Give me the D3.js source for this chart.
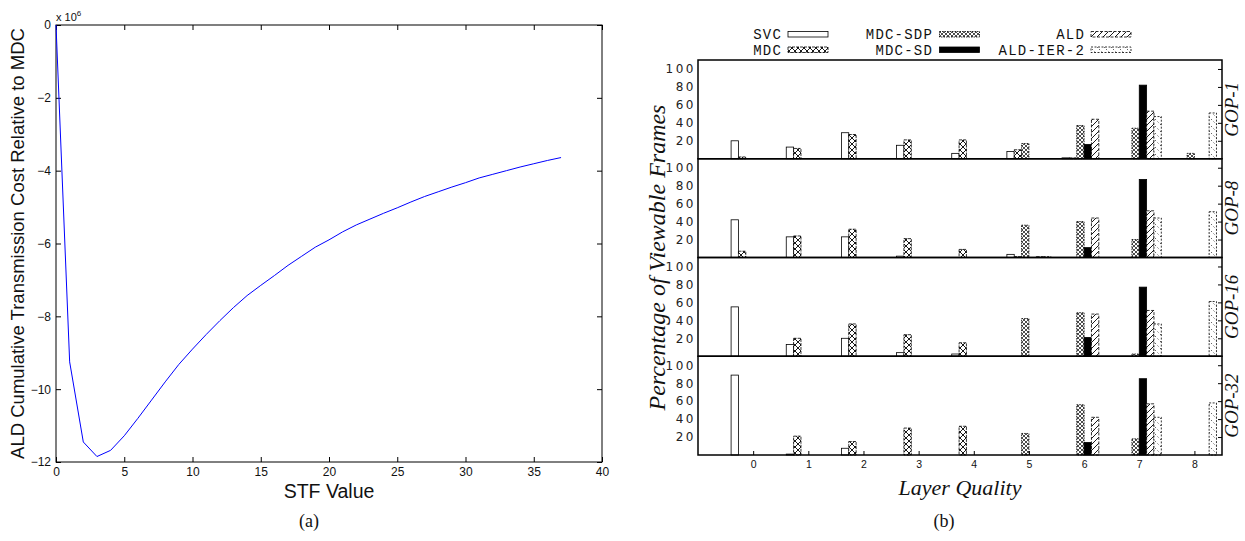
<!DOCTYPE html>
<html>
<head>
<meta charset="utf-8">
<script src="https://cdn.jsdelivr.net/npm/d3@7"></script>
<style>
  body { margin: 0; background: #fff; }
  svg { display: block; }
</style>
</head>
<body>
<svg id="fig" width="1245" height="541"></svg>
<script>
// ---------------- (a) ALD cumulative transmission cost vs STF ----------------
const stfValues = [0, 1, 2, 3, 4, 5, 6, 7, 8, 9, 10, 11, 12, 13, 14, 15, 16, 17, 18, 19,
                   20, 21, 22, 23, 24, 25, 26, 27, 28, 29, 30, 31, 32, 33, 34, 35, 36, 37];
// cost relative to MDC, in units of 10^6
const costDelta = [0, -9.25, -11.45, -11.85, -11.68, -11.28, -10.8, -10.3, -9.8, -9.32,
                   -8.9, -8.5, -8.12, -7.76, -7.43, -7.15, -6.88, -6.6, -6.35, -6.1,
                   -5.9, -5.68, -5.49, -5.33, -5.17, -5.02, -4.86, -4.71, -4.58, -4.45,
                   -4.33, -4.2, -4.1, -4.0, -3.9, -3.81, -3.72, -3.64];
const stfTicks = [0, 5, 10, 15, 20, 25, 30, 35, 40];
const costTicks = [0, -2, -4, -6, -8, -10, -12];

// ---------------- (b) viewable frames per layer quality ----------------
const layers = [0, 1, 2, 3, 4, 5, 6, 7, 8];
const schemes = ["SVC", "MDC", "MDC-SDP", "MDC-SD", "ALD", "ALD-IER-2"];
const gopNames = ["GOP-1", "GOP-8", "GOP-16", "GOP-32"];
const pctTicks = [20, 40, 60, 80, 100];

// percentage of viewable frames, one row per scheme (same order as `schemes`)
const gop1 = [
  [20, 13, 29, 15, 6, 8, 1, 0, 0],
  [2, 11.5, 27, 21, 21, 10, 1, 0, 0],
  [0, 0, 0, 0, 0, 17, 37, 34, 6],
  [0, 0, 0, 0, 0, 0, 16, 82, 0],
  [0, 0, 0, 0, 0, 0, 44, 53, 0],
  [0, 0, 0, 0, 0, 0, 0, 47, 51]
];
const gop8 = [
  [42, 23, 23, 1.5, 0, 3.5, 0, 0, 0],
  [7, 24, 31.5, 21, 9, 1, 0, 0, 0],
  [0, 0, 0, 0, 0, 36, 40, 20, 0],
  [0, 0, 0, 0, 0, 0, 11, 87, 0],
  [0, 0, 0, 0, 0, 1, 44, 52, 0],
  [0, 0, 0, 0, 0, 1, 0, 44, 51]
];
const gop16 = [
  [55, 13, 20, 4, 2.5, 0, 0, 0, 0],
  [0, 20, 36, 24, 15, 0, 0, 0, 0],
  [0, 0, 0, 0, 0, 42, 48.5, 2.5, 0],
  [0, 0, 0, 0, 0, 0, 21, 77, 0],
  [0, 0, 0, 0, 0, 0, 47, 51, 0],
  [0, 0, 0, 0, 0, 0, 0, 36, 61]
];
const gop32 = [
  [89, 1, 7.5, 0, 0, 0, 0, 0, 0],
  [0, 21, 15, 30, 32, 0, 0, 0, 0],
  [0, 0, 0, 0, 0, 24, 56, 18, 0],
  [0, 0, 0, 0, 0, 0, 14, 85, 0],
  [0, 0, 0, 0, 0, 0, 42, 57, 0],
  [0, 0, 0, 0, 0, 0, 0, 42, 58]
];
const gopData = [gop1, gop8, gop16, gop32];

const svg = d3.select("#fig");
const SANS = "'Liberation Sans', Arial, Helvetica, sans-serif";
const SERIF = "'Liberation Serif', 'Times New Roman', serif";
const MONO = "'Liberation Mono', 'Courier New', monospace";

// ======================= panel (a) =======================
const A = { left: 56, right: 602, top: 25, bottom: 462 };
const xA = d3.scaleLinear().domain([0, 40]).range([A.left, A.right]);
const yA = d3.scaleLinear().domain([-12, 0]).range([A.bottom, A.top]);
const gA = svg.append("g");

function styleAxis(g, size) {
  g.select(".domain").remove();
  g.attr("font-family", SANS).attr("font-size", size);
  g.selectAll("line").attr("stroke", "#000");
  g.selectAll("text").attr("fill", "#111");
}

gA.append("g").attr("transform", `translate(0,${A.bottom})`)
  .call(d3.axisBottom(xA).tickValues(stfTicks).tickSizeInner(-5).tickSizeOuter(0)
        .tickPadding(5).tickFormat(d3.format("d")))
  .call(g => styleAxis(g, 12));
gA.append("g").attr("transform", `translate(0,${A.top})`)
  .call(d3.axisTop(xA).tickValues(stfTicks).tickSizeInner(-5).tickSizeOuter(0).tickFormat(""))
  .call(g => styleAxis(g, 12));
gA.append("g").attr("transform", `translate(${A.left},0)`)
  .call(d3.axisLeft(yA).tickValues(costTicks).tickSizeInner(-5).tickSizeOuter(0)
        .tickPadding(5).tickFormat(d3.format("d")))
  .call(g => styleAxis(g, 12));
gA.append("g").attr("transform", `translate(${A.right},0)`)
  .call(d3.axisRight(yA).tickValues(costTicks).tickSizeInner(-5).tickSizeOuter(0).tickFormat(""))
  .call(g => styleAxis(g, 12));

gA.append("rect")
  .attr("x", A.left).attr("y", A.top)
  .attr("width", A.right - A.left).attr("height", A.bottom - A.top)
  .attr("fill", "none").attr("stroke", "#000").attr("stroke-width", 1);

gA.append("path")
  .datum(costDelta)
  .attr("fill", "none")
  .attr("stroke", "#0000ff")
  .attr("stroke-width", 1)
  .attr("d", d3.line().x((d, i) => xA(stfValues[i])).y(d => yA(d)));

// exponent marker
const expo = gA.append("text").attr("x", A.left).attr("y", 20.5)
  .attr("font-family", SANS).attr("font-size", 11).attr("fill", "#111");
expo.append("tspan").text("x 10");
expo.append("tspan").attr("dy", -5).attr("font-size", 8).text("6");

gA.append("text")
  .attr("transform", `translate(24,${(A.top + A.bottom) / 2}) rotate(-90)`)
  .attr("text-anchor", "middle")
  .attr("font-family", SANS).attr("font-size", 18.5).attr("fill", "#111")
  .text("ALD Cumulative Transmission Cost Relative to MDC");

gA.append("text")
  .attr("x", (A.left + A.right) / 2).attr("y", 498)
  .attr("text-anchor", "middle")
  .attr("font-family", SANS).attr("font-size", 19.5).attr("fill", "#111")
  .text("STF Value");

gA.append("text")
  .attr("x", 309).attr("y", 527)
  .attr("text-anchor", "middle")
  .attr("font-family", SERIF).attr("font-size", 18).attr("fill", "#111")
  .text("(a)");

// ======================= panel (b) =======================
const B = { left: 698, right: 1222, top: 60, bottom: 455 };
const xB = d3.scaleLinear().domain([-1, 8.5]).range([B.left, B.right]);
const panelY = d3.scaleBand().domain(gopNames).range([B.top, B.bottom]).paddingInner(0);
const barW = (xB(1) - xB(0)) / 7.5;

// fill patterns for each scheme
const defs = svg.append("defs");
function makePattern(id, size, d, strokeW, dash) {
  const p = defs.append("pattern")
    .attr("id", id).attr("patternUnits", "userSpaceOnUse")
    .attr("width", size).attr("height", size);
  p.append("rect").attr("width", size).attr("height", size).attr("fill", "#fff");
  const path = p.append("path").attr("d", d).attr("stroke", "#000")
    .attr("stroke-width", strokeW).attr("fill", "none");
  if (dash) path.attr("stroke-dasharray", dash);
}
makePattern("pat-mdc", 6, "M0,0L6,6M6,0L0,6", 0.9);
makePattern("pat-sdp", 4, "M0,0L4,4M4,0L0,4", 0.7);
makePattern("pat-ald", 6, "M0,6L6,0M-1,1L1,-1M5,7L7,5", 0.9);
makePattern("pat-ier", 7, "M0,0L7,7M-1,6L1,8M6,-1L8,1", 0.6, "1.5,2");

const schemeFill = ["#fff", "url(#pat-mdc)", "url(#pat-sdp)", "#000", "url(#pat-ald)", "url(#pat-ier)"];
const schemeDash = [null, "3,1", "1.5,1", null, "3,1.5", "2,1.5"];

const gB = svg.append("g");

gopNames.forEach((name, p) => {
  const top = panelY(name);
  const h = panelY.bandwidth();
  const yP = d3.scaleLinear().domain([0, 110]).range([top + h, top]);
  const gp = gB.append("g");

  // bars
  schemes.forEach((s, i) => {
    const vals = gopData[p][i];
    gp.append("g").selectAll("rect")
      .data(layers.filter(k => vals[k] > 0))
      .join("rect")
      .attr("x", k => xB(k) + (i - 2.5) * barW - barW / 2)
      .attr("width", barW)
      .attr("y", k => yP(vals[k]))
      .attr("height", k => yP(0) - yP(vals[k]))
      .attr("fill", schemeFill[i])
      .attr("stroke", "#000")
      .attr("stroke-width", 0.8)
      .attr("stroke-dasharray", schemeDash[i]);
  });

  // percentage ticks on the left
  gp.append("g").attr("transform", `translate(${B.left},0)`)
    .call(d3.axisLeft(yP).tickValues(pctTicks).tickSize(0).tickPadding(2))
    .call(g => {
      g.select(".domain").remove();
      g.attr("font-family", "'DejaVu Sans', Verdana, sans-serif").attr("font-size", 12);
      g.selectAll("text").attr("fill", "#222").attr("letter-spacing", 2.5);
    });
  // mirrored ticks on the right
  gp.append("g").attr("transform", `translate(${B.right},0)`)
    .call(d3.axisRight(yP).tickValues(pctTicks).tickSizeInner(-4).tickSizeOuter(0).tickFormat(""))
    .call(g => { g.select(".domain").remove(); g.selectAll("line").attr("stroke", "#000"); });

  // frame
  gp.append("rect")
    .attr("x", B.left).attr("y", top)
    .attr("width", B.right - B.left).attr("height", h)
    .attr("fill", "none").attr("stroke", "#000").attr("stroke-width", 1.5);

  // GOP label on the right
  gp.append("text")
    .attr("transform", `translate(1238,${top + h / 2}) rotate(-90)`)
    .attr("text-anchor", "middle")
    .attr("font-family", SERIF).attr("font-style", "italic").attr("font-size", 19)
    .attr("fill", "#111")
    .text(name);
});

// layer-quality axis under the last panel
gB.append("g").attr("transform", `translate(0,${B.bottom})`)
  .call(d3.axisBottom(xB).tickValues(layers).tickSizeInner(-4).tickSizeOuter(0).tickPadding(6))
  .call(g => styleAxis(g, 10.5));

gB.append("text")
  .attr("transform", `translate(665,${(B.top + B.bottom) / 2}) rotate(-90)`)
  .attr("text-anchor", "middle")
  .attr("font-family", SERIF).attr("font-style", "italic").attr("font-size", 24)
  .attr("fill", "#111")
  .text("Percentage of Viewable Frames");

gB.append("text")
  .attr("x", (B.left + B.right) / 2).attr("y", 495)
  .attr("text-anchor", "middle")
  .attr("font-family", SERIF).attr("font-style", "italic").attr("font-size", 22)
  .attr("fill", "#111")
  .text("Layer Quality");

gB.append("text")
  .attr("x", 944).attr("y", 527)
  .attr("text-anchor", "middle")
  .attr("font-family", SERIF).attr("font-size", 18).attr("fill", "#111")
  .text("(b)");

// legend: three columns, two rows
const legendCols = [{ textX: 782, boxX: 788 }, { textX: 933, boxX: 939.5 }, { textX: 1085, boxX: 1091 }];
const legendRows = [{ base: 38.5, boxY: 31.5 }, { base: 54.5, boxY: 47 }];
const gL = gB.append("g");
schemes.forEach((s, i) => {
  const c = legendCols[Math.floor(i / 2)];
  const r = legendRows[i % 2];
  gL.append("text")
    .attr("x", c.textX).attr("y", r.base)
    .attr("text-anchor", "end")
    .attr("font-family", MONO).attr("font-size", 14).attr("letter-spacing", 1.2)
    .attr("fill", "#111")
    .text(s);
  gL.append("rect")
    .attr("x", c.boxX).attr("y", r.boxY)
    .attr("width", 40).attr("height", 5.5)
    .attr("fill", schemeFill[i])
    .attr("stroke", "#000").attr("stroke-width", 0.8)
    .attr("stroke-dasharray", schemeDash[i]);
});
</script>
</body>
</html>
